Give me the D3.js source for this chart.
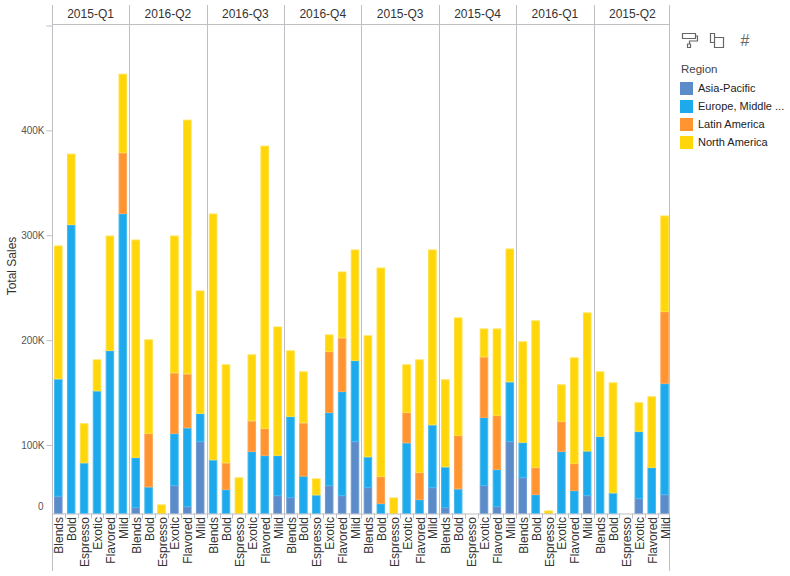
<!DOCTYPE html>
<html><head><meta charset="utf-8">
<script src="https://cdn.jsdelivr.net/npm/d3@7"></script>
<style>html,body{margin:0;padding:0;background:#fff}svg{display:block}text{font-family:"Liberation Sans",Arial,sans-serif}</style>
</head><body><svg id="c" width="790" height="576"></svg>
<script>
const quarters = ["2015-Q1","2016-Q2","2016-Q3","2016-Q4","2015-Q3","2015-Q4","2016-Q1","2015-Q2"];
const products = ["Blends","Bold","Espresso","Exotic","Flavored","Mild"];
const regions = ["Asia-Pacific","Europe, Middle ...","Latin America","North America"];
const colors = ["#5b8bc9","#1caaec","#ff9430","#ffd60a"];
const edges = ["#6f9ad2","#45b9f0","#ffa555","#ffdf3d"];
// Sales in thousands, eight quarters of six products each
const asiaPacific = [
  25.3,0,0,0,0,0,  8.8,0,0,41,10.2,103.5,  0,0,0,0,0,26.4,  23.4,0,0,41,26.4,103.5,
  38.1,0,0,0,0,38.1,  8.8,0,0,41,10.2,103.5,  52.7,0,0,0,0,26.4,  0,0,0,22,0,27.8];
const europeMiddleEast = [
  137.8,310.2,74.1,151.7,190.2,320.7,  73.2,38.9,0,70.1,106.3,26.7,  78.5,35.1,0,90.8,84.9,58.5,  103.9,54.6,27.2,90.1,124.7,77.2,
  44.8,14.6,0,102.2,20.5,81.2,  59.4,36,0,85.4,54.2,56.8,  49.9,27.8,0,90.8,33.7,64.8,  108.3,30.2,0,91,67.3,131];
const latinAmerica = [
  0,0,0,0,0,58.1,  0,72.2,0,57.8,51.4,0,  0,39,0,32.3,31,0,  0,66.6,0,58.1,51.1,0,
  0,39.6,0,28.9,39.5,0,  0,73.2,0,57.7,63.9,0,  0,39.5,0,31.8,39.5,0,  0,0,0,0,0,68.5];
const northAmerica = [
  127.1,67.6,46.6,29.9,109.5,75.2,  213.9,89.6,13.2,130.8,242.3,117.1,  242.2,102.8,52.7,63.3,269.5,128.1,  62.9,49,24,16.2,63.2,105.7,
  121.6,215,23.4,45.8,121.6,167.1,  94.4,112.4,0,27,82.8,127,  96.2,151.5,4.4,35.2,110.3,135.2,  61.9,129.5,0,27.7,79.1,91.5];
const yTicks = [0,100,200,300,400,500];
const yStops = [0,100,500];

const series = [asiaPacific,europeMiddleEast,latinAmerica,northAmerica];
const rows = d3.range(quarters.length*products.length).map(i=>{
  const r={i}; series.forEach((s,k)=>r[k]=s[i]); return r;});
const stacked = d3.stack().keys(d3.range(4))(rows);

const L=52.5,R=669.5,T=24.5,B=513.5,TOP=5,BOT=571, line="#bfbfc4";
const svg=d3.select("#c");
const x=d3.scaleBand().domain(rows.map(d=>d.i)).range([51.85,671.05]).paddingInner(0.34).paddingOuter(0.17);
const px=d3.scaleLinear().domain([0,rows.length]).range([51.85,671.05]);
const y=d3.scaleLinear().domain(yStops).range([B,445,25.5]);

// bars
svg.append("g").selectAll("g").data(stacked).join("g")
  .attr("fill",(d,k)=>colors[k]).attr("stroke",(d,k)=>edges[k]).attr("stroke-width",1)
  .selectAll("rect").data(d=>d.filter(s=>s[1]-s[0]>0)).join("rect")
  .attr("x",d=>x(d.data.i)+.5).attr("width",x.bandwidth()-1)
  .attr("y",d=>y(d[1])+.5).attr("height",d=>Math.max(0,y(d[0])-y(d[1])-.5));

// frame lines
const g=svg.append("g").attr("stroke",line).attr("stroke-width",1);
g.append("line").attr("x1",L).attr("x2",R).attr("y1",T).attr("y2",T);
g.append("line").attr("x1",L).attr("x2",R).attr("y1",B+.5).attr("y2",B+.5);
g.append("line").attr("x1",L).attr("x2",L).attr("y1",TOP).attr("y2",BOT);
g.append("line").attr("x1",R).attr("x2",R).attr("y1",TOP).attr("y2",BOT);
d3.range(1,quarters.length).forEach(q=>{
  const v=Math.round(px(q*products.length))+.5;
  g.append("line").attr("x1",v).attr("x2",v).attr("y1",TOP).attr("y2",B+.5);
});
rows.forEach(d=>{ if(d.i>0){const v=Math.round(px(d.i))+.5;
  g.append("line").attr("x1",v).attr("x2",v).attr("y1",B).attr("y2",B+5);}});

// quarter headers
svg.append("g").selectAll("text").data(quarters).join("text")
  .attr("x",(d,q)=>px((q+.5)*products.length)).attr("y",18).attr("text-anchor","middle")
  .attr("font-size",12).attr("fill","#333").text(d=>d);

// product labels
svg.append("g").selectAll("text").data(rows).join("text")
  .attr("transform",d=>`translate(${x(d.i)+x.bandwidth()/2+5},517) rotate(-90)`)
  .attr("text-anchor","end").attr("font-size",12).attr("fill","#333")
  .text(d=>products[d.i%products.length]);

// y axis
const ax=svg.append("g").attr("transform",`translate(${L},0)`)
  .call(d3.axisLeft(y).tickValues(yTicks).tickSize(6).tickPadding(3)
    .tickFormat(v=>v===500?"":(v===0?"0":v+"K")));
ax.select(".domain").remove();
ax.selectAll(".tick line").attr("stroke",d=>d===0?"none":line);
ax.selectAll(".tick text").attr("font-size",10).attr("fill","#555")
  .attr("font-family",'"Liberation Sans",Arial,sans-serif')
  .attr("dy",d=>d===0?"-0.38em":"0.32em").attr("x",d=>d===0?-9:-8);
svg.append("text").attr("transform","translate(16,266) rotate(-90)")
  .attr("text-anchor","middle").attr("font-size",12).attr("fill","#333").text("Total Sales");

// legend
svg.append("text").attr("x",681).attr("y",73).attr("font-size",11.5).attr("fill","#444").text("Region");
const lg=svg.append("g").selectAll("g").data(regions).join("g")
  .attr("transform",(d,i)=>`translate(680,${82+i*18})`);
lg.append("rect").attr("width",13).attr("height",13).attr("fill",(d,i)=>colors[i]);
lg.append("text").attr("x",18).attr("y",10).attr("font-size",11).attr("fill","#222").text(d=>d);

// toolbar icons
const ic=svg.append("g").attr("fill","none").attr("stroke","#666").attr("stroke-width",1.2);
ic.append("path").attr("d","M682.5 33.5h13v5h-13zM695.5 36h2v5h-8v3M687.5 44h3v3.5h-3z");
ic.append("path").attr("d","M714.5 37.5v-4h-4v9h4M714.5 37.5h9v10h-9z");
svg.append("text").attr("x",745).attr("y",46).attr("text-anchor","middle").attr("font-size",16)
  .attr("fill","#666").text("#");
</script></body></html>
